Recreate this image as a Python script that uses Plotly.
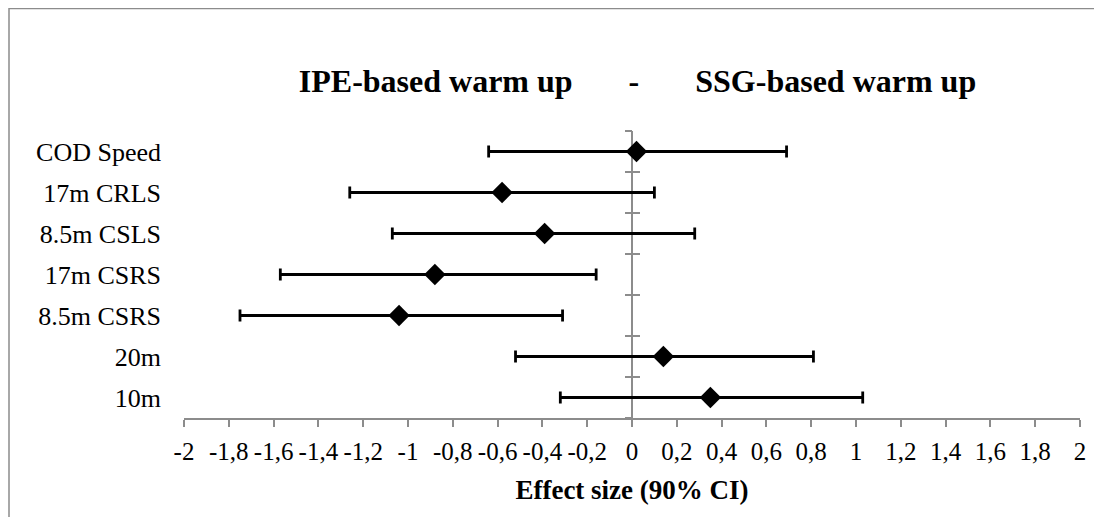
import plotly.graph_objects as go

# outcomes, top to bottom
outcomes = ["COD Speed", "17m CRLS", "8.5m CSLS", "17m CSRS", "8.5m CSRS", "20m", "10m"]
effect = [0.02, -0.58, -0.39, -0.88, -1.04, 0.14, 0.35]
ci_low = [-0.64, -1.26, -1.07, -1.57, -1.75, -0.52, -0.32]
ci_high = [0.69, 0.10, 0.28, -0.16, -0.31, 0.81, 1.03]

x_ticks = [-2, -1.8, -1.6, -1.4, -1.2, -1, -0.8, -0.6, -0.4, -0.2, 0,
           0.2, 0.4, 0.6, 0.8, 1, 1.2, 1.4, 1.6, 1.8, 2]
x_tick_labels = ["-2", "-1,8", "-1,6", "-1,4", "-1,2", "-1", "-0,8", "-0,6", "-0,4", "-0,2", "0",
                 "0,2", "0,4", "0,6", "0,8", "1", "1,2", "1,4", "1,6", "1,8", "2"]

FONT = "Liberation Serif"
GRAY = "#8c8c8c"

# page body has an 8px margin, so the figure is 8px smaller and everything is offset
W, H = 1094, 509
L, T, R, B = 176, 123, 22, 99
PW, PH = W - L - R, H - T - B

fig = go.Figure()

fig.add_trace(go.Scatter(
    x=effect, y=outcomes,
    mode="markers",
    marker=dict(symbol="diamond", size=16.5, color="black"),
    error_x=dict(
        type="data", symmetric=False,
        array=[h - m for h, m in zip(ci_high, effect)],
        arrayminus=[m - l for m, l in zip(effect, ci_low)],
        color="black", thickness=2.8, width=6,
    ),
    showlegend=False,
))

# category-boundary ticks on the vertical line at x = 0
bounds = [i - 0.5 for i in range(len(outcomes) + 1)]
for name in ["y2", "y3"]:
    fig.add_trace(go.Scatter(x=[None], y=[None], yaxis=name, showlegend=False, hoverinfo="skip"))

fig.update_layout(
    width=W, height=H,
    margin=dict(l=L, r=R, t=T, b=B),
    paper_bgcolor="white", plot_bgcolor="white",
    font=dict(family=FONT, color="black", size=26),
    title=dict(
        text="<b>IPE-based warm up" + "\u00a0" * 7 + "-" + "\u00a0" * 7 + "SSG-based warm up</b>",
        font=dict(family=FONT, size=32, color="black"),
        xref="paper", x=(637.5 - 8 - L) / PW, xanchor="center",
        yref="container", y=1 - 73 / H, yanchor="middle",
    ),
    xaxis=dict(
        range=[-2, 2], tickvals=x_ticks, ticktext=x_tick_labels, tickangle=0,
        showgrid=False, zeroline=True, zerolinecolor=GRAY, zerolinewidth=2,
        showline=True, linecolor=GRAY, linewidth=2,
        ticks="outside", ticklen=7, tickcolor=GRAY, tickwidth=1.5,
        tickfont=dict(size=25), ticklabelstandoff=3,
        title=dict(text="<b>Effect size (90% CI)</b>", font=dict(size=27), standoff=16),
    ),
    yaxis=dict(
        type="category", categoryorder="array", categoryarray=outcomes,
        range=[len(outcomes) - 0.5, -0.5],
        showgrid=False, zeroline=False, showline=False, ticks="",
        tickfont=dict(size=26), ticklabelstandoff=22,
    ),
    yaxis2=dict(
        overlaying="y", anchor="free", position=0.5,
        range=[len(outcomes) - 0.5, -0.5], tickvals=bounds, showticklabels=False,
        showgrid=False, zeroline=False, showline=False,
        ticks="outside", ticklen=7, tickcolor=GRAY, tickwidth=1.5,
    ),
    yaxis3=dict(
        overlaying="y", anchor="free", position=0.5,
        range=[len(outcomes) - 0.5, -0.5], tickvals=bounds, showticklabels=False,
        showgrid=False, zeroline=False, showline=False,
        ticks="inside", ticklen=7, tickcolor=GRAY, tickwidth=1.5,
    ),
)

# chart-area border (runs off the right and bottom of the capture)
fig.add_shape(type="rect", xref="paper", yref="paper",
              x0=(1 - L) / PW, x1=(W + 20 - L) / PW,
              y0=-(B + 20) / PH, y1=(PH + T - 0.5) / PH,
              line=dict(color=GRAY, width=1.5), layer="below")

fig.write_html("out.html")
